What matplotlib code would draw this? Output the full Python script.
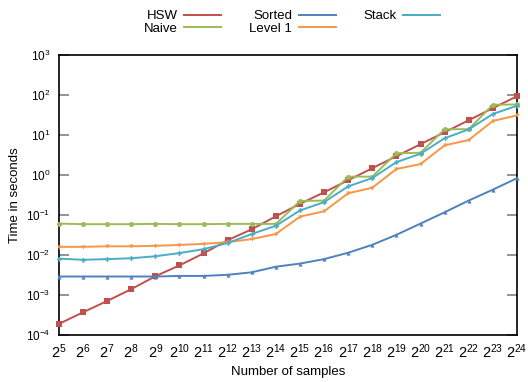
import matplotlib.pyplot as plt
from matplotlib.ticker import FixedLocator, FixedFormatter

exponents = list(range(5, 25))
x_labels = [f"$2^{{{e}}}$" for e in exponents]

hsw = [1.9e-4, 3.7e-4, 7.1e-4, 1.4e-3, 2.95e-3, 5.5e-3, 1.1e-2, 2.35e-2, 4.4e-2, 9.3e-2,
       0.19, 0.37, 0.74, 1.48, 2.95, 5.9, 11.7, 23.4, 46.8, 93.0]
naive = [0.061, 0.059, 0.059, 0.059, 0.06, 0.059, 0.059, 0.06, 0.06, 0.06,
         0.224, 0.23, 0.91, 0.91, 3.5, 3.6, 13.9, 14.0, 57.0, 58.0]
sorted_ = [0.0029, 0.0029, 0.0029, 0.0029, 0.0029, 0.003, 0.003, 0.0032, 0.0037, 0.0051,
           0.0061, 0.0079, 0.0114, 0.018, 0.032, 0.061, 0.117, 0.23, 0.43, 0.83]
level1 = [0.016, 0.016, 0.0165, 0.0165, 0.017, 0.0178, 0.019, 0.021, 0.025, 0.0335,
          0.091, 0.124, 0.35, 0.48, 1.41, 1.88, 5.5, 7.5, 22.4, 31.0]
stack = [0.0081, 0.0076, 0.0079, 0.0083, 0.0093, 0.0112, 0.014, 0.020, 0.0335, 0.054,
         0.13, 0.21, 0.52, 0.84, 2.1, 3.4, 8.3, 13.8, 33.5, 54.0]

plt.rcParams.update({
    "font.family": ["Liberation Sans", "DejaVu Sans"],
    "mathtext.default": "regular",
})

fig = plt.figure(figsize=(5.28, 3.82), dpi=100)
ax = fig.add_axes([0.1117, 0.123, 0.8673, 0.733])

series = [
    ("HSW", hsw, "#C0504D", "s", 4.6),
    ("Naive", naive, "#9BBB59", "o", 3.6),
    ("Sorted", sorted_, "#4F81BD", "^", 3.0),
    ("Level 1", level1, "#F79646", "v", 3.0),
    ("Stack", stack, "#4BACC6", "P", 3.5),
]
handles = []
for name, vals, color, marker, ms in series:
    ax.plot(exponents, vals, color=color, lw=1.4, marker=marker, ms=ms,
            markeredgewidth=0, clip_on=False, zorder=3)
    handles.append(plt.Line2D([], [], color=color, lw=1.4, label=name))

ax.set_yscale("log")
ax.set_ylim(1e-4, 1e3)
ax.set_xlim(5, 24)
ax.xaxis.set_major_locator(FixedLocator(exponents))
ax.xaxis.set_major_formatter(FixedFormatter(x_labels))
ax.yaxis.set_major_locator(FixedLocator([10.0 ** k for k in range(-4, 4)]))
ax.yaxis.set_minor_locator(FixedLocator([]))

ax.tick_params(axis="x", length=0, labelsize=10.5, pad=5)
ax.tick_params(axis="y", direction="in", length=7, width=1.2, color="#808080",
               right=True, labelsize=8.5, pad=6)
for spine in ax.spines.values():
    spine.set_linewidth(1.2)

ax.set_xlabel("Number of samples", fontsize=9.5, labelpad=4)
ax.set_ylabel("Time in seconds", fontsize=9.5, labelpad=4)

fig.legend(handles=handles, loc="upper center", bbox_to_anchor=(0.553, 1.005),
           ncol=3, frameon=False, fontsize=9.5, markerfirst=False,
           handlelength=2.8, columnspacing=2.1, labelspacing=0.05,
           handletextpad=0.5)

fig.savefig("out.png", dpi=100)
